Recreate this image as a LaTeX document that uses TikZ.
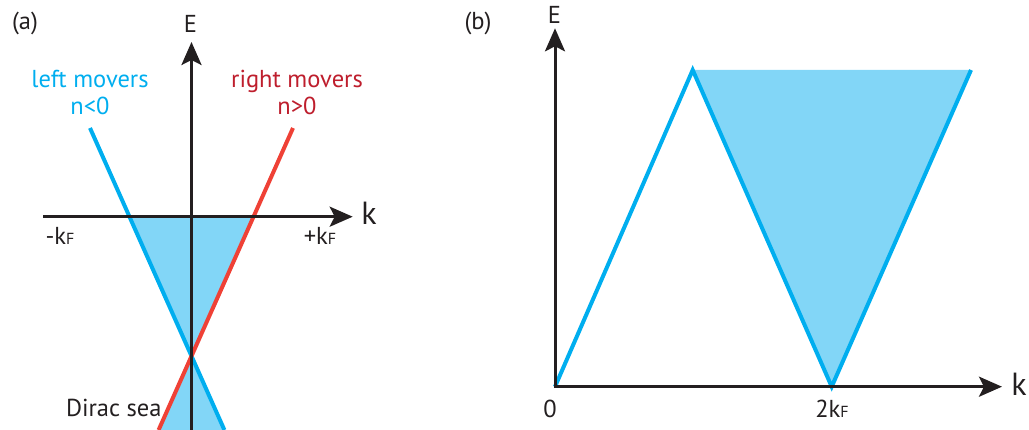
\documentclass[tikz,border=0pt]{standalone}
\usepackage{fontspec}
\setmainfont{PT Sans}
\usetikzlibrary{arrows.meta}
\definecolor{axisblack}{RGB}{35,31,32}
\definecolor{lineblue}{RGB}{0,174,239}
\definecolor{fillblue}{RGB}{130,214,247}
\definecolor{linered}{RGB}{239,65,54}
\definecolor{textred}{RGB}{190,30,45}
\newcommand{\kFsub}{k{\fontsize{16}{16}\selectfont F}}
\begin{document}
\begin{tikzpicture}[x=1pt,y=-1pt,
  axis/.style={draw=axisblack, line width=3pt, -{Stealth[length=23pt,width=20pt,inset=5pt]}},
  blueline/.style={draw=lineblue, line width=4pt},
  redline/.style={draw=linered, line width=4pt},
  sea/.style={fill=fillblue},
  lbl/.style={font=\fontsize{24.5}{26}\selectfont, inner sep=0pt, text=axisblack, anchor=base},
  klbl/.style={font=\fontsize{32}{34}\selectfont, inner sep=0pt, text=axisblack, anchor=base},
  bluetxt/.style={lbl, text=lineblue},
  redtxt/.style={lbl, text=textred}]
\useasboundingbox (0,0) rectangle (1029,430);

% ---------- panel (a) ----------
\coordinate (aO)  at (191.5,356);
\coordinate (aBt) at (90,128);
\coordinate (aBb) at (224.4,430);
\coordinate (aRt) at (293,128);
\coordinate (aRb) at (158.6,430);
\coordinate (aBk) at (129.5,216.7);
\coordinate (aRk) at (253.5,216.7);
\coordinate (aEb) at (191.5,430);
\coordinate (aEt) at (191.5,42);
\coordinate (aKl) at (43,216.7);
\coordinate (aKr) at (352.7,216.7);

\fill[sea] (aBk) -- (aRk) -- (aO) -- cycle;
\fill[sea] (aO) -- (aRb) -- (aBb) -- cycle;
\draw[blueline] (aBt) -- (aBb);
\draw[redline] (aRt) -- (aRb);
\draw[axis] (aEb) -- (aEt);
\draw[axis] (aKl) -- (aKr);

\node[lbl] (alab) at (25,30) {(a)};
\node[lbl] (aE) at (190.5,33) {E};
\node[klbl] (ak) at (369,225) {k};
\node[bluetxt] (lm) at (90,87.3) {left movers};
\node[bluetxt] (nl) at (90,115) {n<0};
\node[redtxt] (rm) at (297,87.3) {right movers};
\node[redtxt] (nr) at (297,115) {n>0};
\node[lbl] (mkf) at (60,245) {-\kFsub};
\node[lbl] (pkf) at (320,245) {+\kFsub};
\node[lbl] (dirac) at (113.8,416.7) {Dirac sea};

% ---------- panel (b) ----------
\coordinate (bO)  at (555,386.7);
\coordinate (bP)  at (692.7,70);
\coordinate (bV)  at (831.7,386.7);
\coordinate (bT)  at (971,70);
\coordinate (bEt) at (555,28.3);
\coordinate (bKr) at (1002,386.7);
\coordinate (bOs) at (553.5,386.7);

\fill[sea] (bP) -- (bT) -- (bV) -- cycle;
\draw[blueline, line join=miter] (bO) -- (bP) -- (bV) -- (bT);
\draw[axis] (bO) -- (bEt);
\draw[axis] (bOs) -- (bKr);

\node[lbl] (blab) at (478,30) {(b)};
\node[lbl] (bE) at (554.5,23.3) {E};
\node[klbl] (bk) at (1019,396) {k};
\node[lbl] (zero) at (550,417.3) {0};
\node[lbl] (tkf) at (832,417.3) {2\kFsub};
\end{tikzpicture}
\end{document}
